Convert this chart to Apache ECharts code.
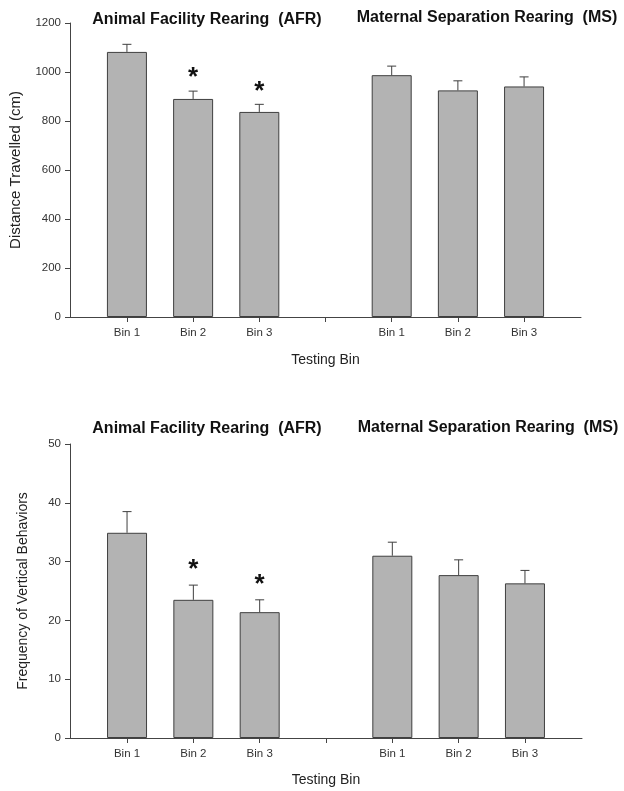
<!DOCTYPE html>
<html><head><meta charset="utf-8">
<script src="https://cdn.jsdelivr.net/npm/echarts@6/dist/echarts.min.js"></script>
<style>html,body{margin:0;padding:0;background:#fff}#c{width:624px;height:791px}</style>
</head><body><div id="c"></div>
<script>
// Category slots on the x axis (slot 4 is the empty gap between groups)
const binLabels = ['Bin 1', 'Bin 2', 'Bin 3', '', 'Bin 1', 'Bin 2', 'Bin 3'];
const binPositions = [1, 2, 3, 4, 5, 6, 7];
const barPositions = [1, 2, 3, 5, 6, 7];
const groupTitles = ['Animal Facility Rearing  (AFR)', 'Maternal Separation Rearing  (MS)'];

// Top panel: distance travelled (cm)
const distMean = [1082, 890, 837, 987, 925, 941];
const distErr = [31, 32, 31, 37, 39, 39];
const distSig = [null, 1000, 945, null, null, null];
const distMax = 1200, distInterval = 200;

// Bottom panel: frequency of vertical behaviors
const vertMean = [34.9, 23.5, 21.4, 31.0, 27.7, 26.3];
const vertErr = [3.6, 2.5, 2.1, 2.3, 2.6, 2.2];
const vertSig = [null, 29.6, 27.0, null, null, null];
const vertMax = 50, vertInterval = 10;

const FONT = 'Liberation Sans, Arial, sans-serif';
const chart = echarts.init(document.getElementById('c'));

function xAxisCfg(gridIndex, nameGap) {
  return {
    type: 'value', gridIndex, min: 0.14, max: 7.86,
    name: 'Testing Bin', nameLocation: 'middle', nameGap,
    nameTextStyle: { fontFamily: FONT, fontSize: 14, color: '#222' },
    axisLine: { show: true, lineStyle: { color: '#444', width: 1 } },
    axisTick: { show: true, length: 5, customValues: binPositions, lineStyle: { color: '#444' } },
    axisLabel: { customValues: binPositions, formatter: v => binLabels[Math.round(v) - 1] || '',
      fontFamily: FONT, fontSize: 11.5, color: '#333', margin: 10 },
    splitLine: { show: false }
  };
}
function yAxisCfg(gridIndex, name, max, interval, nameGap, nameSize) {
  return {
    type: 'value', gridIndex, min: 0, max, interval,
    name, nameLocation: 'middle', nameGap,
    nameTextStyle: { fontFamily: FONT, fontSize: nameSize, color: '#222' },
    axisLine: { show: true, lineStyle: { color: '#444', width: 1 } },
    axisTick: { show: true, length: 5, lineStyle: { color: '#444' } },
    axisLabel: { formatter: v => String(v), fontFamily: FONT, fontSize: 11.5, color: '#333', margin: 9 },
    splitLine: { show: false }
  };
}

function barSeries(idx, means) {
  return {
    type: 'bar', xAxisIndex: idx, yAxisIndex: idx, barWidth: 40,
    data: barPositions.map((x, i) => [x, means[i]]),
    itemStyle: { color: '#b3b3b3', borderColor: '#3f3f3f', borderWidth: 1 },
    silent: true, z: 2
  };
}
function errSeries(idx, means, errs) {
  return {
    type: 'custom', xAxisIndex: idx, yAxisIndex: idx, z: 3, silent: true,
    data: barPositions.map((x, i) => [x, means[i], errs[i]]),
    renderItem: (params, api) => {
      const x = api.value(0), m = api.value(1), e = api.value(2);
      const b = api.coord([x, m]), t = api.coord([x, m + e]);
      const st = { stroke: '#3f3f3f', lineWidth: 1 };
      return { type: 'group', children: [
        { type: 'line', shape: { x1: b[0], y1: b[1], x2: t[0], y2: t[1] }, style: st },
        { type: 'line', shape: { x1: t[0] - 4.5, y1: t[1], x2: t[0] + 4.5, y2: t[1] }, style: st }
      ]};
    }
  };
}
function sigSeries(idx, sig) {
  const data = [];
  barPositions.forEach((x, i) => { if (sig[i] != null) data.push([x, sig[i]]); });
  return {
    type: 'custom', xAxisIndex: idx, yAxisIndex: idx, z: 4, silent: true, data,
    renderItem: (params, api) => {
      const p = api.coord([api.value(0), api.value(1)]);
      return { type: 'text', x: p[0], y: p[1] + 6,
        style: { text: '*', font: 'bold 26px ' + FONT, fill: '#111', align: 'center', verticalAlign: 'middle' } };
    }
  };
}
function titleText(text, x, y) {
  return { type: 'text', x, y, style: { text, font: 'bold 16px ' + FONT, fill: '#111', align: 'center', verticalAlign: 'middle' } };
}

chart.setOption({
  animation: false,
  backgroundColor: '#fff',
  grid: [
    { left: 70, top: 23, width: 511, height: 294 },
    { left: 70, top: 444, width: 512, height: 294 }
  ],
  xAxis: [xAxisCfg(0, 36), xAxisCfg(1, 35)],
  yAxis: [
    yAxisCfg(0, 'Distance Travelled (cm)', distMax, distInterval, 47, 15),
    yAxisCfg(1, 'Frequency of Vertical Behaviors', vertMax, vertInterval, 40, 14)
  ],
  graphic: [
    titleText(groupTitles[0], 207, 20),
    titleText(groupTitles[1], 487, 18),
    titleText(groupTitles[0], 207, 429),
    titleText(groupTitles[1], 488, 428)
  ],
  series: [
    barSeries(0, distMean), errSeries(0, distMean, distErr), sigSeries(0, distSig),
    barSeries(1, vertMean), errSeries(1, vertMean, vertErr), sigSeries(1, vertSig)
  ]
});
</script></body></html>
